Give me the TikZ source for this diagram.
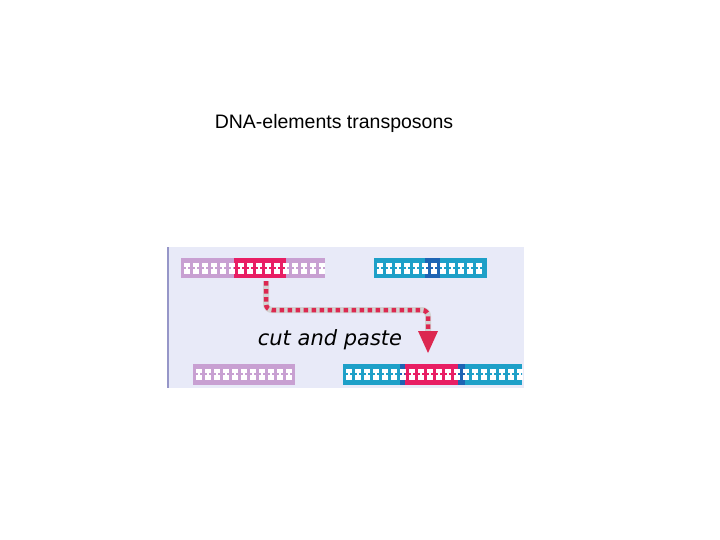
\documentclass[tikz,border=0pt]{standalone}
\usepackage{fontspec}
\setmainfont{Liberation Sans}
\newfontfamily\cutfont{DejaVu Sans}
\definecolor{panel}{RGB}{232,234,248}
\definecolor{lil}{RGB}{200,160,210}
\definecolor{mag}{RGB}{232,30,100}
\definecolor{cy}{RGB}{30,160,200}
\definecolor{dblue}{RGB}{30,100,180}
\definecolor{ared}{RGB}{220,40,80}
\definecolor{edge}{RGB}{150,150,200}
\begin{document}
\begin{tikzpicture}[x=1pt,y=-1pt]
\useasboundingbox (0,0) rectangle (720,540);
\node[font=\fontsize{19.5}{22}\selectfont] (title) at (334,123) {DNA-elements transposons};
\fill[panel] (167,247) rectangle (524,388);
\draw[color=edge, line width=2] (168,247) -- (168,388);
\fill[lil] (181,258) rectangle (325,278);
\fill[mag] (234,258) rectangle (286,278);
\fill[cy] (374,258) rectangle (487,278);
\fill[dblue] (425,258) rectangle (440,278);
\fill[lil] (193,364) rectangle (295,385);
\fill[cy] (343,364) rectangle (522,385);
\fill[dblue] (400,364) rectangle (410,385);
\fill[dblue] (455,364) rectangle (465,385);
\fill[mag] (405,364) rectangle (458,385);
\foreach \a/\b/\y in {181/325/258,374/487/258,193/295/364,343/522/364}{
  \pgfmathsetmacro{\n}{int(floor((\b-\a-6)/9))}
  \foreach \k in {0,...,\n}{
    \pgfmathsetmacro{\xx}{\a+3+\k*9}
    \fill[white] (\xx,\y+4.5) rectangle (\xx+6,\y+9);
    \fill[white] (\xx,\y+11) rectangle (\xx+6,\y+15.5);
    \fill[white] (\xx+2,\y+9) rectangle (\xx+4,\y+11);
  }
}
\coordinate (s) at (266,281);
\coordinate (e) at (428,334);
\draw[line width=6, color=gray!35, rounded corners=6] (s) -- (266,310) -- (428,310) -- (e);
\draw[line width=4.5, color=ared, dash pattern=on 4.5 off 3.5, rounded corners=6] (s) -- (266,310) -- (428,310) -- (e);
\fill[ared] (418,331) -- (438,331) -- (428,353) -- cycle;
\node[font=\cutfont\itshape\fontsize{21}{24}\selectfont] (lbl) at (330,340) {cut and paste};
\end{tikzpicture}
\end{document}
